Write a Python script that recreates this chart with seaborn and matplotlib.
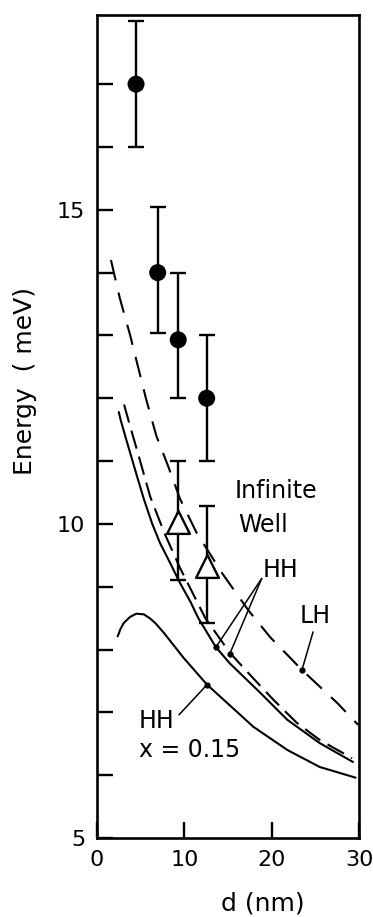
import numpy as np
import pandas as pd
import matplotlib
matplotlib.use("Agg")
import matplotlib.pyplot as plt
import seaborn as sns

# ---------------- data ----------------
# LH, infinite well (long dashes)
lh_d = [1.6, 2.6, 3.8, 5.6, 6.8, 8.2, 9.5, 11.4, 14.4, 17.3, 19.8, 23.5, 27.5, 29.9]
lh_E = [14.2, 13.6, 13.0, 12.0, 11.4, 10.9, 10.4, 9.86, 9.2, 8.63, 8.2, 7.67, 7.15, 6.8]
# HH, infinite well (dashed)
hhinf_d = [3.1, 3.7, 4.8, 6.1, 7.7, 9.5, 12.4, 15.2, 17.5, 20.2, 22.9, 25.5, 29.2]
hhinf_E = [11.9, 11.6, 11.07, 10.43, 9.86, 9.3, 8.5, 7.95, 7.6, 7.2, 6.83, 6.56, 6.27]
# HH (solid)
hh_d = [2.5, 2.7, 3.25, 3.8, 4.6, 5.4, 6.3, 7.2, 8.4, 9.5, 10.7, 11.6, 13.6, 15.2,
        18.7, 21.8, 25.5, 29.3]
hh_E = [11.78, 11.66, 11.39, 11.13, 10.75, 10.38, 10.01, 9.7, 9.37, 9.06, 8.76, 8.5,
        8.04, 7.78, 7.31, 6.88, 6.51, 6.21]
# HH, x = 0.15 (solid)
hh015_d = [2.37, 2.67, 3.05, 3.8, 4.5, 5.35, 6.03, 6.68, 7.63, 9.9, 12.6, 14.9,
           17.9, 21.8, 25.5, 29.6]
hh015_E = [8.21, 8.32, 8.42, 8.52, 8.57, 8.56, 8.5, 8.42, 8.27, 7.87, 7.44, 7.15,
           6.77, 6.4, 6.13, 5.96]

# measured points: filled circles
circ_d = [4.47, 6.95, 9.3, 12.56]
circ_E = [17.0, 14.0, 12.93, 12.0]
circ_lo = [16.0, 13.04, 12.0, 11.0]
circ_hi = [18.0, 15.05, 14.0, 13.0]
# measured points: open triangles
tri_d = [9.3, 12.6]
tri_E = [10.03, 9.33]
tri_lo = [9.1, 8.42]
tri_hi = [11.0, 10.28]

xticks = [0, 10, 20, 30]
xtick_labels = ["0", "10", "20", "30"]
yticks = list(range(5, 18))
ytick_labels = [str(v) if v % 5 == 0 else "" for v in yticks]

# ---------------- style ----------------
sns.set_style("ticks")
plt.rcParams["font.family"] = ["DejaVu Sans"]
plt.rcParams["axes.linewidth"] = 1.9
plt.rcParams["axes.labelcolor"] = "black"
plt.rcParams["text.color"] = "black"

fig = plt.figure(figsize=(3.73, 9.17), dpi=100)
ax = fig.add_axes([0.260, 0.0862, 0.7025, 0.8974])

df = pd.concat([
    pd.DataFrame({"d": lh_d, "E": lh_E, "curve": "LH inf"}),
    pd.DataFrame({"d": hhinf_d, "E": hhinf_E, "curve": "HH inf"}),
    pd.DataFrame({"d": hh_d, "E": hh_E, "curve": "HH"}),
    pd.DataFrame({"d": hh015_d, "E": hh015_E, "curve": "HH 0.15"}),
], ignore_index=True)

sns.lineplot(data=df, x="d", y="E", style="curve",
             dashes={"LH inf": (10, 6), "HH inf": (9, 4), "HH": "", "HH 0.15": ""},
             color="black", lw=1.5, estimator=None, sort=False, legend=False, ax=ax)

ax.errorbar(circ_d, circ_E,
            yerr=[np.subtract(circ_E, circ_lo), np.subtract(circ_hi, circ_E)],
            fmt="none", ecolor="black", elinewidth=1.7, capsize=5.8, capthick=1.7, zorder=3)
ax.errorbar(tri_d, tri_E,
            yerr=[np.subtract(tri_E, tri_lo), np.subtract(tri_hi, tri_E)],
            fmt="none", ecolor="black", elinewidth=1.7, capsize=5.8, capthick=1.7, zorder=3)
sns.scatterplot(x=circ_d, y=circ_E, marker="o", s=150, color="black",
                edgecolor="none", zorder=4, ax=ax)
sns.scatterplot(x=tri_d, y=tri_E, marker="^", s=270, color="white",
                edgecolor="black", linewidth=1.7, zorder=4, ax=ax)

ax.set_xlim(0, 30)
ax.set_ylim(5, 18.1)
ax.set_xticks(xticks)
ax.set_xticklabels(xtick_labels)
ax.set_yticks(yticks)
ax.set_yticklabels(ytick_labels)
ax.tick_params(direction="in", length=11.5, width=1.7, labelsize=16, pad=8.5,
               colors="black")
for s in ax.spines.values():
    s.set_visible(True)
    s.set_color("black")

ax.set_xlabel("d (nm)", fontsize=18, va="center", color="black")
ax.xaxis.set_label_coords(0.634, -0.0796)
ax.set_ylabel("Energy  ( meV)", fontsize=18, va="center", color="black")
ax.yaxis.set_label_coords(-0.275, 0.5547)

# ---------------- annotations ----------------
tk = dict(fontsize=17, ha="left", va="baseline", color="black")
ax.text(15.8, 10.41, "Infinite", **tk)
ax.text(16.15, 9.87, "Well", **tk)
ax.text(19.0, 9.16, "HH", **tk)
ax.text(23.25, 8.42, "LH", **tk)
ax.text(4.8, 6.75, "HH", **tk)
ax.text(4.8, 6.29, "x = 0.15", **tk)

pointer_tips = [(13.63, 8.04), (15.2, 7.93), (23.48, 7.68), (12.6, 7.44)]
pointer_tails = [(18.86, 9.13), (18.86, 9.13), (24.74, 8.28), (9.39, 6.96)]
for tip, tail in zip(pointer_tips, pointer_tails):
    ax.annotate("", xy=tip, xytext=tail,
                arrowprops=dict(arrowstyle="-", lw=1.1, color="black",
                                shrinkA=0, shrinkB=0))
    ax.plot(*tip, "o", ms=3.5, color="black", zorder=5)

fig.savefig("out.png", dpi=100, facecolor="white")
